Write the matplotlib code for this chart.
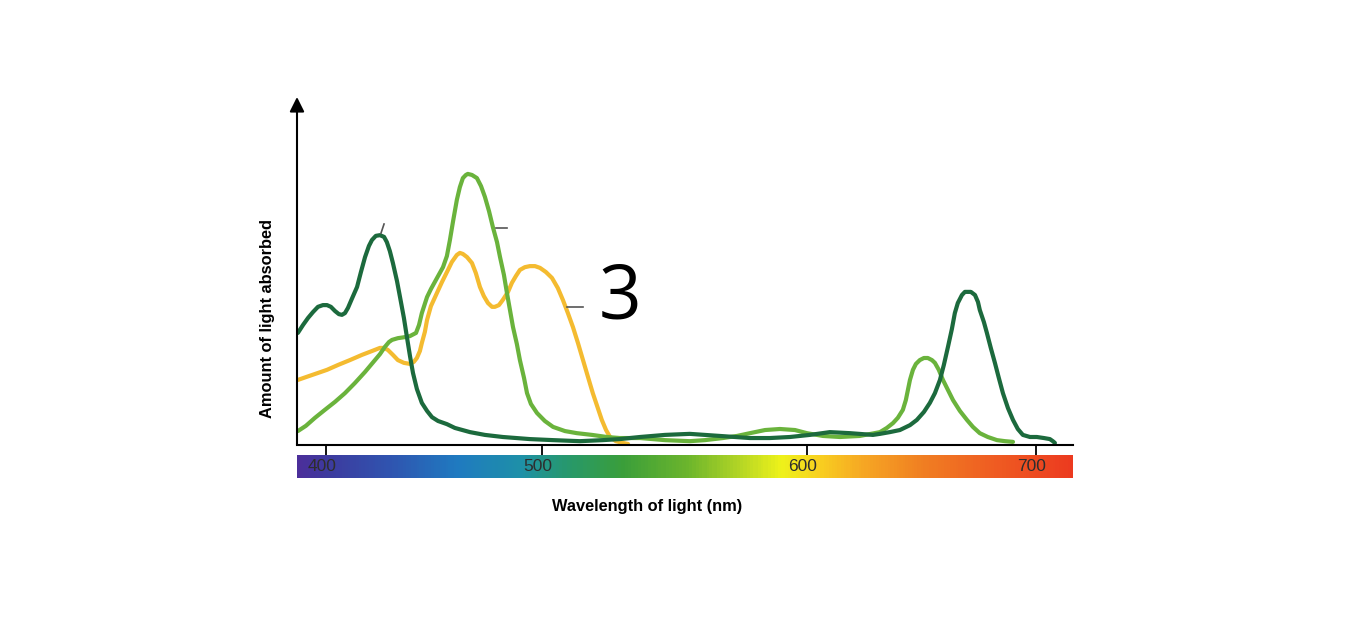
import numpy as np
import matplotlib
matplotlib.use("Agg")
import matplotlib.pyplot as plt
from matplotlib.colors import LinearSegmentedColormap

# tick wavelengths and where they sit along the drawn axis (the original art is not linear)
tick_wl = [400, 500, 600, 700]
tick_labels = ["400", "500", "600", "700"]
knot_wl = [300, 400, 500, 600, 700, 800]
knot_pos = [110, 326, 542, 807, 1036, 1265]

# chlorophyll a (dark green)
chl_a_wl = [387.0, 389.4, 391.7, 394.0, 396.3, 398.6, 400.5, 402.3, 404.2, 406.0,
            407.4, 408.8, 410.2, 412.0, 414.4, 416.2, 418.1, 419.9, 421.3, 423.1,
            425.0, 426.9, 428.2, 429.6, 431.0, 432.9, 434.3, 436.1, 437.5, 438.9,
            440.3, 442.1, 444.4, 446.8, 449.1, 451.9, 456.0, 459.7, 466.7, 473.6,
            481.9, 494.4, 504.2, 514.3, 523.0, 529.4, 537.0, 546.4, 555.8, 567.2,
            578.5, 586.0, 593.6, 601.3, 610.0, 618.8, 628.8, 631.9, 636.2, 640.6,
            645.0, 648.0, 651.1, 653.7, 655.9, 658.1, 659.8, 661.6, 663.3, 664.6,
            665.9, 667.7, 669.0, 670.3, 671.6, 673.4, 674.7, 675.5, 677.3, 678.6,
            680.3, 682.1, 683.8, 685.6, 687.8, 690.0, 692.1, 694.3, 697.4, 700.4,
            703.5, 706.1, 707.4, 708.3]
chl_a_abs = [0.322, 0.345, 0.365, 0.382, 0.397, 0.402, 0.402, 0.397, 0.385, 0.376,
             0.374, 0.379, 0.394, 0.420, 0.454, 0.497, 0.540, 0.572, 0.589, 0.601,
             0.603, 0.598, 0.583, 0.557, 0.523, 0.471, 0.425, 0.365, 0.310, 0.256,
             0.207, 0.161, 0.121, 0.098, 0.080, 0.069, 0.060, 0.049, 0.037, 0.029,
             0.023, 0.017, 0.014, 0.011, 0.014, 0.017, 0.023, 0.029, 0.032, 0.026,
             0.020, 0.020, 0.023, 0.029, 0.037, 0.034, 0.029, 0.032, 0.037, 0.043,
             0.057, 0.072, 0.095, 0.121, 0.149, 0.187, 0.230, 0.282, 0.333, 0.379,
             0.408, 0.431, 0.440, 0.440, 0.440, 0.431, 0.411, 0.388, 0.353, 0.322,
             0.279, 0.236, 0.193, 0.149, 0.106, 0.072, 0.046, 0.029, 0.023, 0.023,
             0.020, 0.017, 0.011, 0.006]

# chlorophyll b (light green)
chl_b_wl = [387.0, 390.7, 394.9, 399.5, 404.2, 408.8, 413.4, 418.1, 422.7, 425.0,
            427.3, 429.2, 430.6, 433.3, 436.6, 438.9, 441.7, 443.1, 444.4, 446.8,
            448.6, 450.9, 454.2, 456.0, 457.4, 458.8, 460.6, 462.0, 463.4, 464.8,
            465.7, 467.6, 469.9, 471.8, 473.6, 475.5, 477.3, 479.2, 480.6, 482.4,
            483.8, 485.2, 486.6, 488.4, 489.8, 491.7, 493.1, 494.9, 497.7, 501.1,
            504.2, 508.7, 513.2, 518.9, 524.5, 529.4, 537.0, 546.4, 555.8, 561.5,
            568.3, 573.6, 578.5, 584.2, 589.8, 595.5, 600.0, 607.0, 614.4, 623.1,
            631.9, 634.9, 637.6, 639.7, 641.9, 643.2, 644.1, 645.0, 646.3, 647.6,
            649.3, 651.1, 652.8, 654.6, 655.9, 657.6, 659.4, 661.6, 663.8, 666.8,
            669.9, 672.5, 675.5, 679.0, 683.0, 686.5, 690.0]
chl_b_abs = [0.040, 0.055, 0.078, 0.101, 0.124, 0.149, 0.178, 0.210, 0.244, 0.261,
             0.282, 0.296, 0.302, 0.307, 0.310, 0.313, 0.322, 0.345, 0.379, 0.425,
             0.448, 0.474, 0.511, 0.543, 0.589, 0.641, 0.704, 0.741, 0.767, 0.776,
             0.779, 0.776, 0.767, 0.744, 0.713, 0.672, 0.626, 0.583, 0.540, 0.489,
             0.437, 0.388, 0.339, 0.290, 0.244, 0.193, 0.149, 0.118, 0.092, 0.069,
             0.052, 0.040, 0.034, 0.029, 0.023, 0.020, 0.020, 0.014, 0.011, 0.014,
             0.020, 0.026, 0.034, 0.043, 0.046, 0.043, 0.034, 0.026, 0.023, 0.026,
             0.037, 0.049, 0.063, 0.078, 0.101, 0.129, 0.158, 0.187, 0.216, 0.233,
             0.244, 0.250, 0.250, 0.244, 0.236, 0.216, 0.187, 0.158, 0.129, 0.098,
             0.072, 0.052, 0.034, 0.023, 0.014, 0.011, 0.009]

# carotenoids (yellow)
carot_wl = [387.0, 390.7, 394.9, 400.5, 405.6, 411.1, 416.7, 421.3, 425.0, 426.9,
            428.7, 431.0, 433.3, 436.1, 438.9, 440.7, 442.1, 443.5, 444.4, 445.8,
            446.8, 448.6, 451.4, 453.7, 456.5, 458.3, 460.6, 462.0, 463.4, 465.3,
            467.6, 469.4, 471.3, 473.1, 475.0, 476.9, 478.2, 480.1, 481.9, 484.3,
            486.1, 488.0, 489.8, 492.1, 494.4, 496.8, 499.1, 501.5, 503.8, 506.0,
            507.9, 509.8, 511.7, 513.6, 515.5, 517.4, 519.2, 521.1, 522.6, 524.2,
            525.7, 527.9, 530.6, 532.5]
carot_abs = [0.187, 0.195, 0.204, 0.216, 0.230, 0.244, 0.259, 0.270, 0.279, 0.279,
             0.273, 0.259, 0.244, 0.236, 0.233, 0.239, 0.250, 0.270, 0.293, 0.325,
             0.359, 0.399, 0.437, 0.468, 0.503, 0.526, 0.546, 0.552, 0.549, 0.540,
             0.523, 0.494, 0.454, 0.428, 0.408, 0.397, 0.397, 0.402, 0.417, 0.440,
             0.466, 0.486, 0.503, 0.511, 0.514, 0.514, 0.509, 0.497, 0.480, 0.451,
             0.417, 0.379, 0.339, 0.293, 0.244, 0.195, 0.149, 0.106, 0.072, 0.043,
             0.023, 0.011, 0.006, 0.003]

# small leader ticks next to the curves: (x0, y0, x1, y1)
leaders = [(425.5, 0.609, 426.9, 0.635),
           (478.7, 0.624, 483.8, 0.624),
           (509.4, 0.397, 515.5, 0.397)]

# visible spectrum colours
spec_wl = [386.6, 400, 430, 460, 490, 510, 530, 555, 575, 590, 605, 625, 650, 680, 716.2]
spec_col = ["#4b2f9a", "#3d3a9e", "#2f55b0", "#1f7ac0", "#1e90a8", "#27986a", "#3a9e3a",
            "#6cb52c", "#b5d625", "#eef21a", "#f8d020", "#f6a623", "#f07f22", "#ef5e22",
            "#ec3a1f"]

xmin, xmax = 386.6, 716.2


def fwd(w):
    return np.interp(w, knot_wl, knot_pos)


def inv(p):
    return np.interp(p, knot_pos, knot_wl)


fig = plt.figure(figsize=(13.5, 6.17), dpi=100)
ax = fig.add_axes([0.22, 0.27877, 0.57481, 0.56402])
ax.set_xscale("function", functions=(fwd, inv))
ax.set_xlim(xmin, xmax)
ax.set_ylim(0, 1)

style = dict(lw=3, solid_capstyle="round", solid_joinstyle="round")
ax.plot(carot_wl, carot_abs, color="#f4bb30", **style)
ax.plot(chl_b_wl, chl_b_abs, color="#6ab33c", **style)
ax.plot(chl_a_wl, chl_a_abs, color="#1c6a3d", **style)

for x0, y0, x1, y1 in leaders:
    ax.plot([x0, x1], [y0, y1], color="#555555", lw=1.2)

for s in ["top", "right", "left"]:
    ax.spines[s].set_visible(False)
ax.spines["bottom"].set_linewidth(1.5)
ax.set_xticks(tick_wl)
ax.set_xticklabels([])
ax.tick_params(axis="x", direction="out", length=7, width=1.3)
ax.set_yticks([])
ax.annotate("", xy=(0, 1), xytext=(0, 0), xycoords="axes fraction",
            arrowprops=dict(arrowstyle="-|>", color="black", lw=1.5, mutation_scale=22,
                            shrinkA=0, shrinkB=0))

# spectrum bar
sax = fig.add_axes([0.22, 1 - 478 / 617, 0.57481, 23 / 617])
sax.set_xscale("function", functions=(fwd, inv))
stops = [(w - xmin) / (xmax - xmin) for w in spec_wl]
cmap = LinearSegmentedColormap.from_list("spec", list(zip(stops, spec_col)))
grid = np.linspace(xmin, xmax, 600)
sax.pcolormesh(grid, [0, 1], grid[:-1][None, :], cmap=cmap, vmin=xmin, vmax=xmax, shading="flat")
sax.set_xlim(xmin, xmax)
sax.set_ylim(0, 1)
sax.axis("off")
for w, lab in zip(tick_wl, tick_labels):
    sax.annotate(lab, xy=(w, 0.5), xytext=(-3, 0), textcoords="offset points",
                 ha="center", va="center", fontsize=12.5, color="#2e2e2e",
                 family=["Liberation Sans Narrow", "Liberation Sans", "DejaVu Sans"])

fig.text(0.1978, 0.4846, "Amount of light absorbed", rotation=90, ha="center", va="center",
         fontsize=11.8, fontweight="bold", family=["Liberation Sans", "DejaVu Sans"])
fig.text(0.4793, 0.1783, "Wavelength of light (nm)", ha="center", va="center",
         fontsize=11.8, fontweight="bold", family=["Liberation Sans", "DejaVu Sans"])
fig.text(0.4593, 0.515, "3", ha="center", va="center", fontsize=54,
         family=["Open Sans", "DejaVu Sans"])

fig.savefig("out.png", dpi=100)
